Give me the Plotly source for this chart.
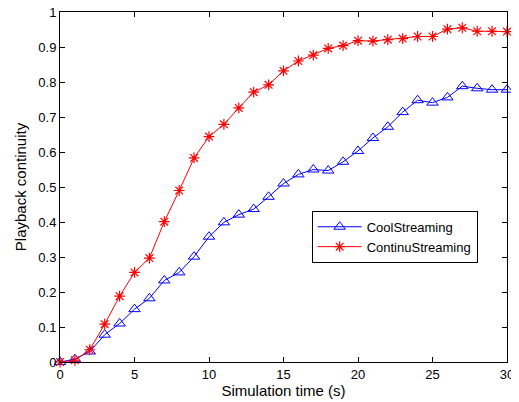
import plotly.graph_objects as go

time_s = list(range(0, 31))
cool_streaming = [0.0, 0.008, 0.03, 0.078, 0.11, 0.151, 0.182, 0.233, 0.256, 0.301,
                  0.358, 0.399, 0.421, 0.437, 0.472, 0.51, 0.536, 0.55, 0.547, 0.572,
                  0.603, 0.64, 0.672, 0.714, 0.748, 0.741, 0.756, 0.788, 0.782, 0.778, 0.778]
continu_streaming = [0.0, 0.005, 0.035, 0.108, 0.188, 0.256, 0.297, 0.401, 0.49, 0.583,
                     0.644, 0.679, 0.726, 0.771, 0.792, 0.832, 0.86, 0.877, 0.896, 0.904,
                     0.918, 0.917, 0.921, 0.924, 0.93, 0.93, 0.951, 0.955, 0.945, 0.945, 0.944]
x_ticks = [0, 5, 10, 15, 20, 25, 30]
y_ticks = [0, 0.1, 0.2, 0.3, 0.4, 0.5, 0.6, 0.7, 0.8, 0.9, 1]
y_tick_labels = ["0", "0.1", "0.2", "0.3", "0.4", "0.5", "0.6", "0.7", "0.8", "0.9", "1"]

font_family = "Liberation Sans, Arial, Helvetica, sans-serif"

fig = go.Figure()
fig.add_trace(go.Scatter(
    x=time_s, y=cool_streaming, name="CoolStreaming", mode="lines+markers",
    line=dict(color="#0000ff", width=1),
    marker=dict(symbol="triangle-up-open", size=10, color="#0000ff", line=dict(width=1, color="#0000ff")),
    cliponaxis=False,
))
fig.add_trace(go.Scatter(
    x=time_s, y=continu_streaming, name="ContinuStreaming", mode="lines+markers",
    line=dict(color="#ff0000", width=1),
    marker=dict(symbol="asterisk-open", size=9, color="#ff0000", line=dict(width=1.2, color="#ff0000")),
    cliponaxis=False,
))

axis_common = dict(
    showgrid=False, zeroline=False, showline=True, linecolor="black", linewidth=1,
    mirror="ticks", ticks="inside", ticklen=5, tickcolor="black", tickwidth=1,
    tickfont=dict(family=font_family, size=13, color="black"),
    automargin=False, ticklabeloverflow="allow",
)

fig.update_xaxes(range=[0, 30], tickvals=x_ticks,
                 title=dict(text="Simulation time (s)", font=dict(family=font_family, size=15, color="black"), standoff=2),
                 **axis_common)
fig.update_yaxes(range=[0, 1], tickvals=y_ticks, ticktext=y_tick_labels,
                 title=dict(text="Playback continuity", font=dict(family=font_family, size=15, color="black"), standoff=8),
                 **axis_common)

# the page adds an 8px body margin, so the figure is sized to fit the 519x402 window
fig.update_layout(
    width=511, height=394,
    margin=dict(l=52, r=12, t=4, b=40, autoexpand=False),
    paper_bgcolor="white", plot_bgcolor="white",
    font=dict(family=font_family, size=13, color="black"),
    showlegend=True,
    legend=dict(x=0.563, y=0.432, xanchor="left", yanchor="top",
                bordercolor="black", borderwidth=1, bgcolor="white",
                font=dict(family=font_family, size=13, color="black"),
                tracegroupgap=0, itemwidth=44),
)

fig.write_html("out.html")
